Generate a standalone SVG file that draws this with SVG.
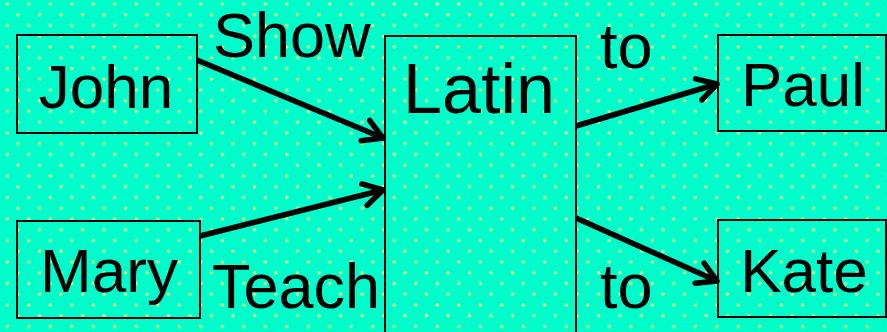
<svg xmlns="http://www.w3.org/2000/svg" width="887" height="332" viewBox="0 0 887 332">
<style>
.box{fill:none;stroke:#000;stroke-width:2}
.t{font-family:"Liberation Sans",Arial,sans-serif;fill:#000}
.n{font-size:62px;text-anchor:middle}
.big{font-size:70px;text-anchor:middle}
.lbl{font-size:63px}
.conn{stroke:#000;stroke-width:5.5;fill:none;marker-end:url(#arr)}
</style>
<defs>
<pattern id="dots" patternUnits="userSpaceOnUse" x="0" y="0" width="21.5" height="21.5">
<circle cx="7.3" cy="4" r="2" fill="#c8f070" opacity="0.6"/>
<circle cx="7.3" cy="4" r="1.1" fill="#ffff99"/>
<circle cx="18.05" cy="14.75" r="2" fill="#c8f070" opacity="0.6"/>
<circle cx="18.05" cy="14.75" r="1.1" fill="#ffff99"/>
</pattern>
<marker id="arr" markerUnits="userSpaceOnUse" orient="auto" markerWidth="40" markerHeight="40" refX="0" refY="0" viewBox="-30 -20 40 40" overflow="visible">
<path d="M-19,-11 L0,0 L-19,11" fill="none" stroke="#000" stroke-width="5.5" stroke-linecap="round" stroke-linejoin="round"/>
</marker>
</defs>
<rect x="0" y="0" width="887" height="332" fill="#00fccb"/>
<rect x="0" y="0" width="887" height="332" fill="url(#dots)"/>
<g id="connectors">
<line class="conn" x1="197" y1="60" x2="383" y2="138"/>
<line class="conn" x1="200" y1="236" x2="383" y2="190"/>
<line class="conn" x1="576" y1="126" x2="717" y2="84"/>
<line class="conn" x1="576" y1="218" x2="717" y2="281"/>
</g>
<g id="labels">
<text class="t lbl" x="213" y="57">Show</text>
<text class="t lbl" x="212" y="308">Teach</text>
<text class="t lbl" x="600" y="68">to</text>
<text class="t lbl" x="600" y="308">to</text>
</g>
<g id="john">
<rect class="box" x="17" y="35" width="180" height="98"/>
<text class="t n" x="106" y="108">John</text>
</g>
<g id="mary">
<rect class="box" x="17" y="221" width="183" height="97"/>
<text class="t n" x="109" y="292">Mary</text>
</g>
<g id="latin">
<rect class="box" x="385" y="36" width="191" height="320"/>
<text class="t big" x="479" y="113">Latin</text>
</g>
<g id="paul">
<rect class="box" x="718" y="35" width="168" height="96"/>
<text class="t n" x="803" y="106">Paul</text>
</g>
<g id="kate">
<rect class="box" x="718" y="220" width="168" height="97"/>
<text class="t n" x="804" y="292">Kate</text>
</g>
</svg>
